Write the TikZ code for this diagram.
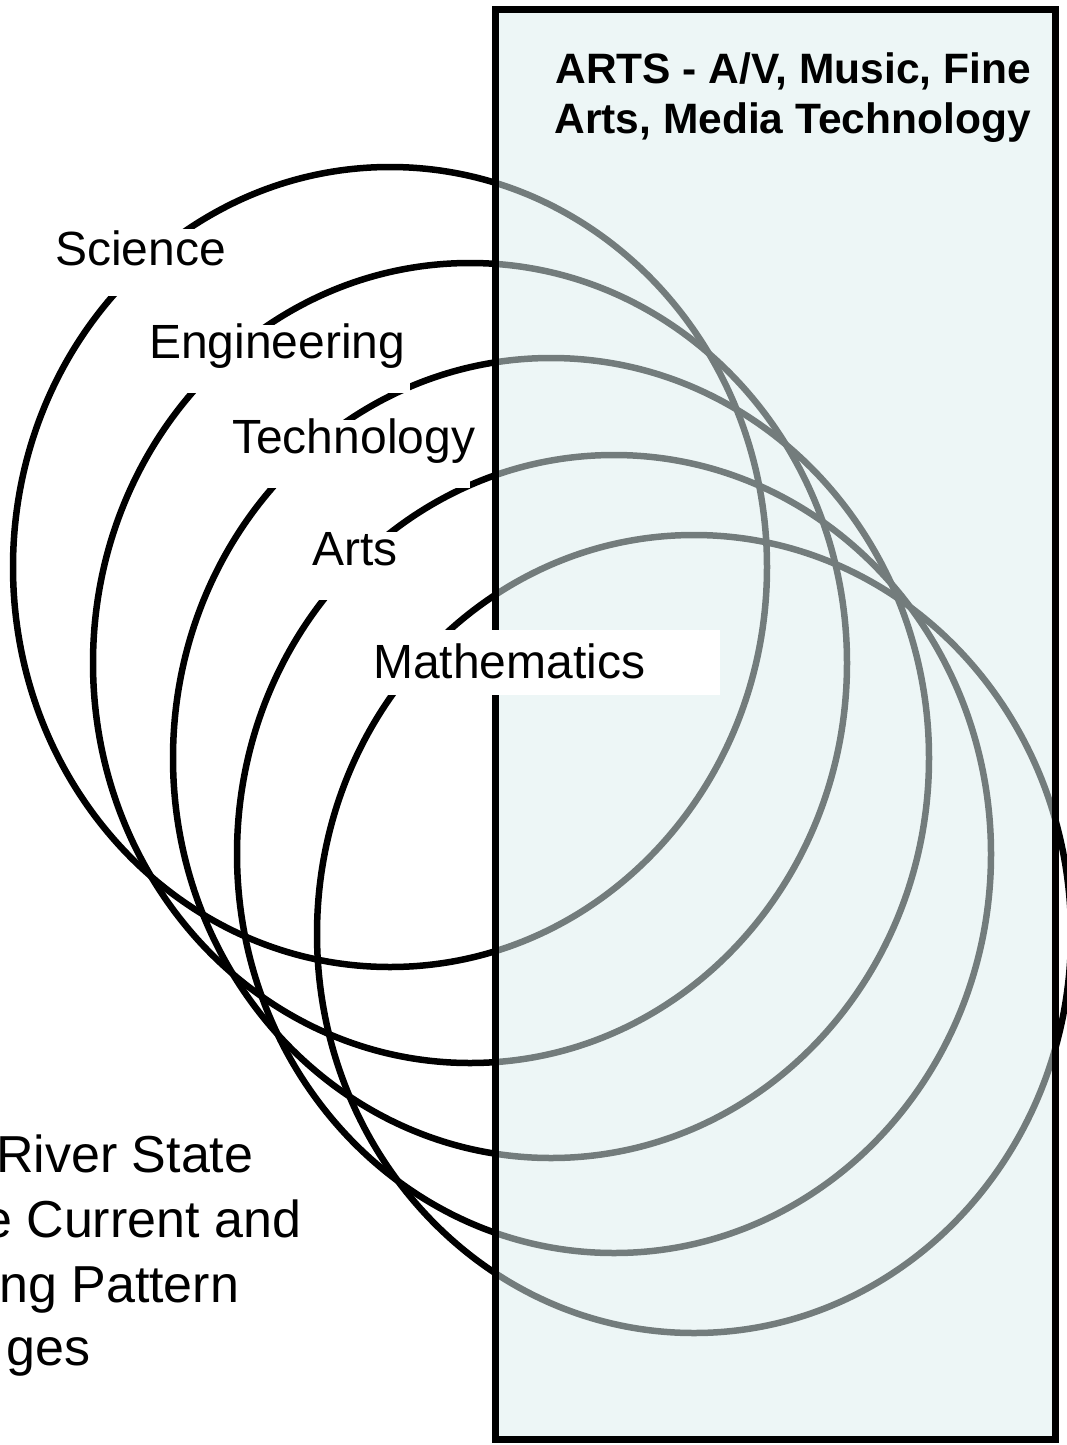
\documentclass[tikz,border=0pt]{standalone}
\usepackage{fontspec}
\setmainfont{Liberation Sans}
\definecolor{panelfill}{RGB}{222,239,239}
\begin{document}
\begin{tikzpicture}[x=1pt,y=-1pt,
  ring/.style={line width=6.5pt, draw=black},
  panel/.style={line width=7pt, draw=black, fill=panelfill, fill opacity=0.52, draw opacity=1},
  lbl/.style={fill=white, inner xsep=5pt, inner ysep=0pt, anchor=base west,
              font=\fontsize{48}{58}\selectfont},
  note/.style={inner sep=0pt, anchor=base west, font=\fontsize{52}{65}\selectfont},
  heading/.style={inner sep=0pt, anchor=north east, align=right,
                  font=\bfseries\fontsize{42.5}{50}\selectfont}]
\useasboundingbox (0,0) rectangle (1067,1445);
\clip (0,0) rectangle (1067,1445);
\fill[white] (0,0) rectangle (1067,1445);

% five overlapping rings
\draw[ring] (390,567) ellipse [x radius=377pt, y radius=400pt];
\draw[ring] (470,663) ellipse [x radius=377pt, y radius=400pt];
\draw[ring] (551,758) ellipse [x radius=378pt, y radius=400pt];
\draw[ring] (614,854) ellipse [x radius=377pt, y radius=399pt];
\draw[ring] (694,934) ellipse [x radius=377pt, y radius=399pt];

% translucent arts panel
\draw[panel] (495,10) rectangle (1055,1439);

% ring labels
\node[lbl, text height=36pt, text depth=31pt] (science) at (50,265) {Science};
\node[lbl, text height=33pt, text depth=35pt] (engineering) at (144,358) {Engineering};
\node[lbl, text height=33pt, text depth=35pt] (technology) at (227,453) {\makebox[233pt][l]{Technology}};
\node[lbl, text height=33pt, text depth=35pt] (arts) at (307,565) {Arts};
\node[lbl, text height=48pt, text depth=17pt] (mathematics) at (368,678) {\makebox[342pt][l]{Mathematics}};

% panel heading
\node[heading] (heading) at (1031,53) {ARTS - A/V, Music, Fine\\Arts, Media Technology};

% clipped note at lower left
\node[note] (note1) at (-4,1172) {River State};
\node[note] (note2) at (-17,1237) {e Current and};
\node[note] (note3) at (-1,1302) {ng Pattern};
\node[note] (note4) at (6,1365) {ges};
\end{tikzpicture}
\end{document}
